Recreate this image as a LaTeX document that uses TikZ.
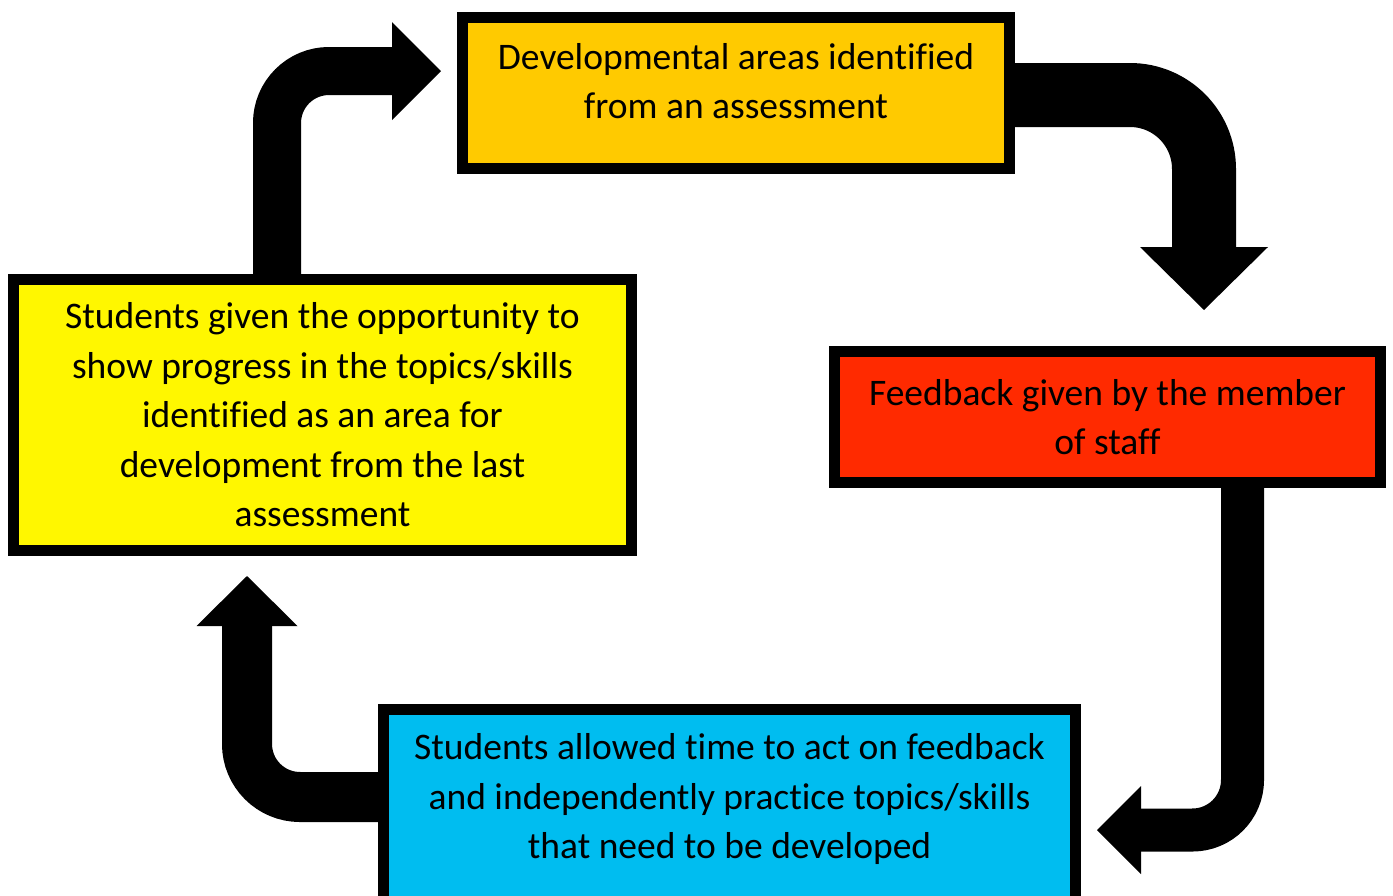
\documentclass[tikz,border=0pt]{standalone}
\usepackage{fontspec}
\setmainfont{Carlito}[Ligatures=NoCommon]
\definecolor{devorange}{HTML}{FFCA00}
\definecolor{progyellow}{HTML}{FFF700}
\definecolor{feedred}{HTML}{FF2A00}
\definecolor{actblue}{HTML}{00BDF0}
\tikzset{
  box/.style={draw=black, line width=11pt, align=center, inner sep=0pt,
    font=\fontsize{37.5}{49.5}\selectfont},
  shaft/.style={draw=black, line cap=butt, line join=miter},
}
\begin{document}
\begin{tikzpicture}[x=1pt,y=-1pt]
   \useasboundingbox (0,0) rectangle (1393,895);
   % the four stages
   \node[box, fill=devorange, minimum width=547pt, minimum height=151pt] (dev) at (736,93)
      {Developmental areas identified\\from an assessment\rule[-24pt]{0pt}{0pt}};
   \node[box, fill=feedred, minimum width=546pt, minimum height=131pt] (feed) at (1107.5,417)
      {Feedback given by the member\\of staff};
   \node[box, fill=actblue, minimum width=692pt, minimum height=197pt] (act) at (729.5,808)
      {Students allowed time to act on feedback\\and independently practice topics/skills\\that need to be developed\rule[-24pt]{0pt}{0pt}};
   \node[box, fill=progyellow, minimum width=618pt, minimum height=271pt] (stud) at (322.5,415)
      {Students given the opportunity to\\show progress in the topics/skills\\identified as an area for\\development from the last\\assessment};
   % arrow heads
   \coordinate (h1) at (392,71);
   \coordinate (h2) at (1204,247);
   \coordinate (h3) at (1141,830);
   \coordinate (h4) at (247,626);
   \draw[shaft, line width=48pt, rounded corners=52pt] (277,0 |- stud.north) |- (h1);
   \fill (h1) -- ++(0,-49) -- ++(49,49) -- ++(-49,49) -- cycle;
   \draw[shaft, line width=64pt, rounded corners=74pt] (dev.east |- 0,95) -| (h2);
   \fill (h2) -- ++(-64,0) -- ++(64,63) -- ++(64,-63) -- cycle;
   \draw[shaft, line width=43pt, rounded corners=50pt] (1242.5,0 |- feed.south) |- (h3);
   \fill (h3) -- ++(0,-44) -- ++(-44,44) -- ++(44,44) -- cycle;
   \draw[shaft, line width=50pt, rounded corners=53pt] (act.west |- 0,797) -| (h4);
   \fill (h4) -- ++(-50.5,0) -- ++(50.5,-50) -- ++(50.5,50) -- cycle;
\end{tikzpicture}
\end{document}
